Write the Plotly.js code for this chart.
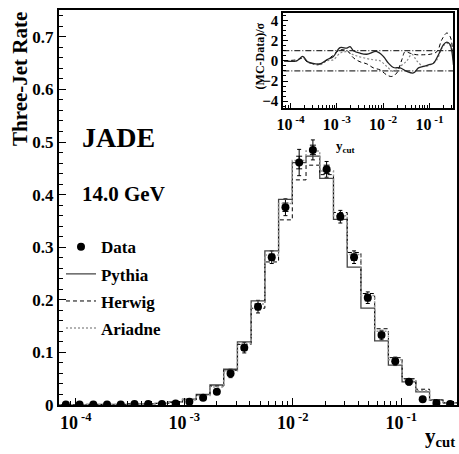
<!DOCTYPE html>
<html><head><meta charset="utf-8">
<script src="https://cdn.plot.ly/plotly-3.0.1.min.js"></script>
<style>html,body{margin:0;padding:0;background:#fff;}#chart{width:459px;height:454px;}</style>
</head><body><div id="chart"></div>
<script>
// ---- data: main plot (log10 of y_cut bin edges, 29 bins) ----
const binEdgesLog = [-4.154,-4.0275,-3.9010,-3.7746,-3.6481,-3.5216,-3.3951,-3.2687,-3.1422,-3.0157,
  -2.8892,-2.7627,-2.6363,-2.5098,-2.3833,-2.2568,-2.1304,-2.0039,-1.8774,-1.7509,
  -1.6245,-1.4980,-1.3715,-1.2450,-1.1186,-0.9921,-0.8656,-0.7391,-0.6127,-0.4862];
const binCentersLog = [-4.0908,-3.9643,-3.8378,-3.7113,-3.5849,-3.4584,-3.3319,-3.2054,-3.0790,-2.9525,
  -2.8260,-2.6995,-2.5731,-2.4466,-2.3201,-2.1936,-2.0672,-1.9407,-1.8142,-1.6877,
  -1.5613,-1.4348,-1.3083,-1.1818,-1.0554,-0.9289,-0.8024,-0.6759,-0.5495];
const dataRate = [0.001,0.001,0.001,0.001,0.001,0.002,0.002,0.002,0.003,0.006,
  0.014,0.025,0.060,0.109,0.187,0.281,0.376,0.461,0.485,0.448,
  0.358,0.281,0.204,0.133,0.083,0.044,0.011,0.004,0.002];
const dataErrTot = [0.002,0.002,0.002,0.002,0.002,0.002,0.002,0.002,0.002,0.003,
  0.004,0.005,0.008,0.010,0.012,0.012,0.016,0.025,0.019,0.015,
  0.012,0.012,0.011,0.009,0.008,0.006,0.004,0.002,0.002];
const dataErrStat = [0.001,0.001,0.001,0.001,0.001,0.001,0.001,0.001,0.001,0.002,
  0.002,0.003,0.004,0.005,0.006,0.006,0.008,0.012,0.009,0.008,
  0.006,0.006,0.006,0.005,0.004,0.003,0.002,0.001,0.001];
const pythia = [0.000,0.000,0.001,0.001,0.001,0.002,0.002,0.003,0.006,0.011,
  0.020,0.038,0.068,0.120,0.198,0.293,0.391,0.461,0.473,0.431,
  0.353,0.262,0.184,0.122,0.076,0.044,0.025,0.009,0.004];
const herwig = [0.000,0.000,0.001,0.001,0.001,0.002,0.002,0.003,0.005,0.010,
  0.019,0.036,0.066,0.115,0.184,0.272,0.352,0.428,0.456,0.438,
  0.366,0.290,0.212,0.145,0.090,0.050,0.030,0.010,0.004];
const ariadne = [0.000,0.000,0.001,0.001,0.001,0.002,0.002,0.003,0.005,0.010,
  0.018,0.034,0.065,0.117,0.192,0.285,0.383,0.465,0.483,0.445,
  0.360,0.286,0.208,0.140,0.086,0.048,0.027,0.009,0.004];
const seriesNames = ["Data","Pythia","Herwig","Ariadne"];

// ---- data: inset (MC-Data)/sigma ----
const pyLog = [-4.139,-3.865,-3.735,-3.636,-3.541,-3.361,-3.217,-3.074,-2.929,-2.785,-2.713,-2.642,-2.497,-2.353,-2.137,-1.994,-1.886,-1.778,-1.634,-1.489,-1.346,-1.238,-1.130,-1.022,-0.914,-0.806,-0.698,-0.625,-0.554,-0.517,-0.482];
const pyDev = [0,0,0.43,-0.07,-0.23,-0.3,0.1,0.43,1.3,1.25,1.4,1.0,0.75,0.65,0.92,0.43,-0.23,-0.66,-0.7,-1.05,-1.2,-0.7,-0.56,-0.4,-0.23,0.6,1.6,1.85,1.6,0.9,-0.4];
const hwLog = [-4.139,-3.865,-3.735,-3.636,-3.541,-3.361,-3.145,-2.965,-2.857,-2.750,-2.642,-2.497,-2.353,-2.210,-2.066,-1.921,-1.813,-1.705,-1.597,-1.526,-1.418,-1.273,-1.130,-0.985,-0.841,-0.733,-0.625,-0.554,-0.496,-0.482];
const hwDev = [0,0.1,0.25,-0.1,-0.25,-0.3,0.3,1.0,1.1,0.9,0.3,-0.1,-0.3,-0.7,-0.9,-1.4,-1.55,-1.2,0.1,0.9,0.75,0.6,0.6,0.65,0.9,2.1,2.75,2.4,0.9,-0.4];
const arLog = [-4.139,-3.865,-3.735,-3.636,-3.541,-3.361,-3.217,-3.074,-2.929,-2.785,-2.642,-2.425,-2.210,-2.066,-1.921,-1.778,-1.634,-1.489,-1.381,-1.273,-1.130,-0.985,-0.841,-0.733,-0.625,-0.517,-0.482];
const arDev = [0,0,0.35,-0.1,-0.3,-0.4,0.0,0.1,0.75,0.9,0.6,0.3,0.1,0.0,-0.56,-1.05,-0.56,0.0,0.65,0.0,-0.56,-0.4,0.1,1.25,1.75,1.25,0.2];
const bandLevels = [1, -1];

// ---- build ----
const p10 = v => Math.pow(10, v);
const edges = binEdgesLog.map(p10);
const centers = binCentersLog.map(p10);
const stepY = arr => arr.concat([arr[arr.length-1]]);
const F = "Liberation Serif, Times New Roman, serif";

const minorVals = [];
for (let e = -5; e <= 0; e++) for (let d = 2; d <= 9; d++) minorVals.push(d * Math.pow(10, e));

const traces = [
  {x: centers, y: dataRate, type:'scatter', mode:'markers', xaxis:'x', yaxis:'y', showlegend:false, hoverinfo:'skip',
   marker:{size:0.1, color:'black'}, error_y:{type:'data', array:dataErrTot, visible:true, color:'black', thickness:1, width:2}},
  {x: centers, y: dataRate, type:'scatter', mode:'markers', xaxis:'x', yaxis:'y', showlegend:false, hoverinfo:'skip',
   marker:{size:0.1, color:'black'}, error_y:{type:'data', array:dataErrStat, visible:true, color:'black', thickness:1, width:3}},
  {x: edges, y: stepY(pythia), type:'scatter', mode:'lines', name: seriesNames[1], legendgroup:'b', legendrank:2,
   line:{shape:'hv', color:'#444', width:1.3}, xaxis:'x', yaxis:'y'},
  {x: edges, y: stepY(herwig), type:'scatter', mode:'lines', name: seriesNames[2], legendgroup:'c', legendrank:3,
   line:{shape:'hv', color:'black', width:1, dash:'4px,3px'}, xaxis:'x', yaxis:'y'},
  {x: edges, y: stepY(ariadne), type:'scatter', mode:'lines', name: seriesNames[3], legendgroup:'d', legendrank:4,
   line:{shape:'hv', color:'#999', width:1.5, dash:'2px,2px'}, xaxis:'x', yaxis:'y'},
  {x: centers, y: dataRate, type:'scatter', mode:'markers', name: seriesNames[0], legendgroup:'a', legendrank:1,
   marker:{size:8, color:'black'}, xaxis:'x', yaxis:'y'},
  // inset
  {x: [edges[0], edges[edges.length-1]], y:[bandLevels[0], bandLevels[0]], type:'scatter', mode:'lines', xaxis:'x2', yaxis:'y2', showlegend:false,
   line:{color:'black', width:1, dash:'6px,2px,1px,2px'}},
  {x: [edges[0], edges[edges.length-1]], y:[bandLevels[1], bandLevels[1]], type:'scatter', mode:'lines', xaxis:'x2', yaxis:'y2', showlegend:false,
   line:{color:'black', width:1, dash:'6px,2px,1px,2px'}},
  {x: arLog.map(p10), y: arDev, type:'scatter', mode:'lines', xaxis:'x2', yaxis:'y2', showlegend:false,
   line:{color:'#888', width:1.2, dash:'2px,2px', shape:'spline', smoothing:1}},
  {x: hwLog.map(p10), y: hwDev, type:'scatter', mode:'lines', xaxis:'x2', yaxis:'y2', showlegend:false,
   line:{color:'black', width:1, dash:'4px,3px', shape:'spline', smoothing:1}},
  {x: pyLog.map(p10), y: pyDev, type:'scatter', mode:'lines', xaxis:'x2', yaxis:'y2', showlegend:false,
   line:{color:'#222', width:1.3, shape:'spline', smoothing:1}}
];

const decTicks = [1e-4, 1e-3, 1e-2, 1e-1];
const decText = ["10<sup>\u00a0-4</sup>","10<sup>\u00a0-3</sup>","10<sup>\u00a0-2</sup>","10<sup>\u00a0-1</sup>"];
const xr = [binEdgesLog[0], binEdgesLog[binEdgesLog.length-1]];

const layout = {
  width:459, height:454,
  margin:{l:59, r:2, t:10, b:49},
  paper_bgcolor:'white', plot_bgcolor:'rgba(0,0,0,0)',
  font:{family:F, color:'black'},
  showlegend:true,
  legend:{x:0.005, y:0.445, xanchor:'left', yanchor:'top', bgcolor:'rgba(0,0,0,0)', tracegroupgap:2,
    font:{family:F, size:17, color:'black', weight:'bold'}, traceorder:'grouped'},
  xaxis:{type:'log', range:xr, domain:[0,1], anchor:'y', showgrid:false, zeroline:false,
    showline:true, linecolor:'black', linewidth:2, mirror:true,
    ticks:'inside', ticklen:7, tickwidth:1, tickcolor:'black',
    tickmode:'array', tickvals:decTicks, ticktext:decText,
    tickfont:{family:F, size:18, weight:'bold'},
    minor:{tickmode:'array', tickvals:minorVals, ticks:'inside', ticklen:4, tickwidth:1, tickcolor:'black'}},
  yaxis:{range:[0,0.751], domain:[0,1], anchor:'x', showgrid:false, zeroline:false,
    showline:true, linecolor:'black', linewidth:2, mirror:true,
    ticks:'inside', ticklen:7, tickwidth:1, tickcolor:'black', dtick:0.1, tick0:0,
    tickfont:{family:F, size:17, weight:'bold'},
    minor:{dtick:0.02, ticks:'inside', ticklen:4, tickwidth:1, tickcolor:'black'}},
  xaxis2:{type:'log', range:xr, domain:[0.5636,0.9907], anchor:'y2', showgrid:false, zeroline:false,
    showline:true, linecolor:'black', linewidth:2, mirror:true,
    ticks:'inside', ticklen:5, tickwidth:1, tickcolor:'black',
    tickmode:'array', tickvals:decTicks, ticktext:decText,
    tickfont:{family:F, size:16, weight:'bold'},
    minor:{tickmode:'array', tickvals:minorVals, ticks:'inside', ticklen:3, tickwidth:1, tickcolor:'black'}},
  yaxis2:{range:[-4.7,4.7], domain:[0.7511,0.9916], anchor:'x2', showgrid:false, zeroline:false,
    showline:true, linecolor:'black', linewidth:2, mirror:true,
    ticks:'inside', ticklen:5, tickwidth:1, tickcolor:'black', tickmode:'array', tickvals:[-4,-2,0,2,4],
    tickfont:{family:F, size:15, weight:'bold'},
    minor:{dtick:0.5, ticks:'inside', ticklen:3, tickwidth:1, tickcolor:'black'}},
  annotations:[
    {text:'<b>Three-Jet Rate</b>', xref:'paper', yref:'paper', x:-0.098, y:1.0, xanchor:'center', yanchor:'top',
     textangle:-90, showarrow:false, font:{family:F, size:21}},
    {text:'<b>y<sub>cut</sub></b>', xref:'paper', yref:'paper', x:1.0, y:-0.12, xanchor:'right', yanchor:'bottom',
     showarrow:false, font:{family:F, size:21}},
    {text:'<b>JADE</b>', xref:'paper', yref:'paper', x:0.052, y:0.676, xanchor:'left', yanchor:'middle',
     showarrow:false, font:{family:F, size:28}},
    {text:'<b>14.0 GeV</b>', xref:'paper', yref:'paper', x:0.052, y:0.533, xanchor:'left', yanchor:'middle',
     showarrow:false, font:{family:F, size:21}},
    {text:'<b>(MC-Data)/σ</b>', xref:'paper', yref:'paper', x:0.505, y:0.885, xanchor:'center', yanchor:'middle',
     textangle:-90, showarrow:false, font:{family:F, size:12}},
    {text:'<b>y<sub>cut</sub></b>', xref:'paper', yref:'paper', x:0.72, y:0.655, xanchor:'center', yanchor:'middle',
     showarrow:false, font:{family:F, size:13}}
  ]
};
Plotly.newPlot('chart', traces, layout, {staticPlot:true, displayModeBar:false});
</script></body></html>
